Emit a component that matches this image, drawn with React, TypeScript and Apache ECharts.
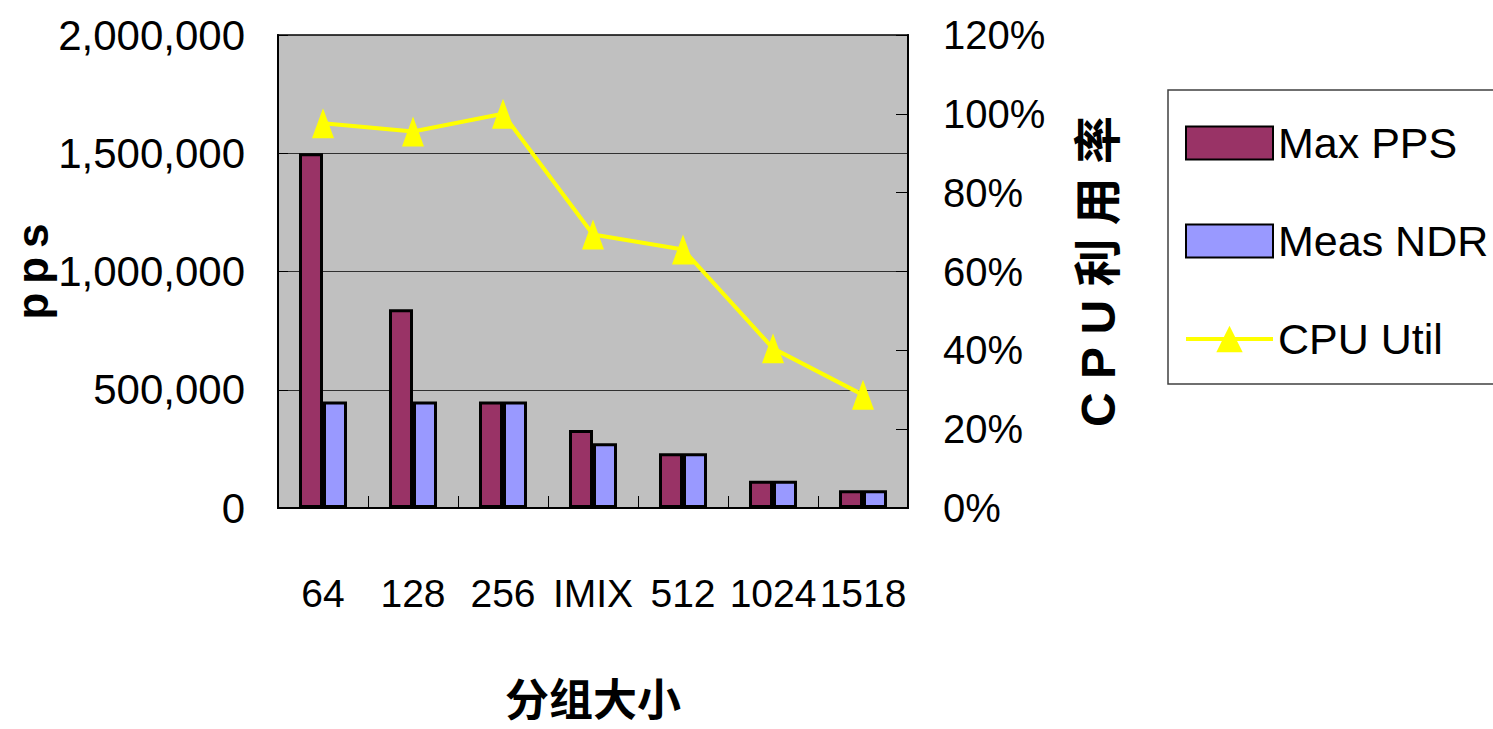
import React, { useEffect, useRef } from "react";
import * as echarts from "echarts";

const categories = ["64", "128", "256", "IMIX", "512", "1024", "1518"];
const maxPps = [1500000, 840000, 450000, 330000, 232000, 115000, 75000];
const measNdr = [450000, 450000, 450000, 274000, 232000, 115000, 75000];
const cpuUtil = [0.976, 0.955, 1.0, 0.694, 0.656, 0.405, 0.287];
const seriesNames = ["Max PPS", "Meas NDR", "CPU Util"];

const FONT = "'Liberation Sans', Arial, 'Noto Sans CJK SC', sans-serif";

export default function App() {
  const ref = useRef<HTMLDivElement>(null);
  useEffect(() => {
    if (!ref.current) return;
    const chart = echarts.init(ref.current, undefined, { renderer: "svg" });
    chart.setOption({
      animation: false,
      backgroundColor: "#ffffff",
      grid: {
        left: 278,
        right: 585,
        top: 35,
        bottom: 221,
        containLabel: false,
        outerBoundsMode: "none",
        show: true,
        backgroundColor: "#c0c0c0",
        borderColor: "#404040",
        borderWidth: 2,
      },
      legend: {
        orient: "vertical",
        left: 1168,
        top: 90,
        padding: [26, 60, 18, 16],
        itemGap: 44,
        itemWidth: 87,
        itemHeight: 33,
        borderColor: "#404040",
        borderWidth: 1.5,
        data: [
          { name: seriesNames[0], icon: "rect" },
          { name: seriesNames[1], icon: "rect" },
          { name: seriesNames[2], lineStyle: { width: 4, color: "#ffff00" } },
        ],
        textStyle: { fontFamily: FONT, fontSize: 43, lineHeight: 54, color: "#000" },
      },
      xAxis: {
        type: "category",
        data: categories,
        name: "分组大小",
        nameLocation: "middle",
        nameGap: 170,
        nameTextStyle: { fontFamily: FONT, fontSize: 44, fontWeight: "bold", color: "#000" },
        axisLine: { show: true, lineStyle: { color: "#000", width: 2 } },
        axisTick: { show: true, inside: true, length: 12, lineStyle: { color: "#000", width: 1 } },
        axisLabel: { fontFamily: FONT, fontSize: 39, color: "#000", margin: 66, interval: 0 },
      },
      yAxis: [
        {
          type: "value",
          min: 0,
          max: 2000000,
          interval: 500000,
          name: "p\u2009p\u2009s",
          nameLocation: "middle",
          nameRotate: 90,
          nameGap: 220,
          nameTextStyle: { fontFamily: FONT, fontSize: 44, fontWeight: "bold", color: "#000" },
          axisLine: { show: true, lineStyle: { color: "#000", width: 2 } },
          axisTick: { show: true, inside: true, length: 10, lineStyle: { color: "#000" } },
          axisLabel: {
            fontFamily: FONT,
            fontSize: 42,
            color: "#000",
            margin: 33,
            formatter: (v: number) => v.toLocaleString("en-US"),
          },
          splitLine: { show: true, lineStyle: { color: "#303030", width: 1 } },
        },
        {
          type: "value",
          min: 0,
          max: 1.2,
          interval: 0.2,
          name: "C P U 利 用 率",
          nameLocation: "middle",
          nameRotate: 90,
          nameGap: 166,
          nameTextStyle: { fontFamily: FONT, fontSize: 48, fontWeight: "bold", color: "#000" },
          axisLine: { show: true, lineStyle: { color: "#000", width: 2 } },
          axisTick: { show: true, inside: true, length: 12, lineStyle: { color: "#000" } },
          axisLabel: {
            fontFamily: FONT,
            fontSize: 40,
            color: "#000",
            margin: 35,
            formatter: (v: number) => Math.round(v * 100) + "%",
          },
          splitLine: { show: false },
        },
      ],
      series: [
        {
          name: seriesNames[0],
          type: "bar",
          data: maxPps,
          barWidth: 24,
          barGap: "0%",
          itemStyle: { color: "#993366", borderColor: "#000", borderWidth: 3 },
        },
        {
          name: seriesNames[1],
          type: "bar",
          data: measNdr,
          barWidth: 24,
          barGap: "0%",
          itemStyle: { color: "#9999ff", borderColor: "#000", borderWidth: 3 },
        },
        {
          name: seriesNames[2],
          type: "line",
          yAxisIndex: 1,
          data: cpuUtil,
          symbol: "triangle",
          symbolSize: [22, 30],
          lineStyle: { color: "#ffff00", width: 4 },
          itemStyle: { color: "#ffff00" },
        },
      ],
    });
    return () => chart.dispose();
  }, []);
  return <div ref={ref} style={{ position: "absolute", left: 0, top: 0, width: 1493, height: 729 }} />;
}
